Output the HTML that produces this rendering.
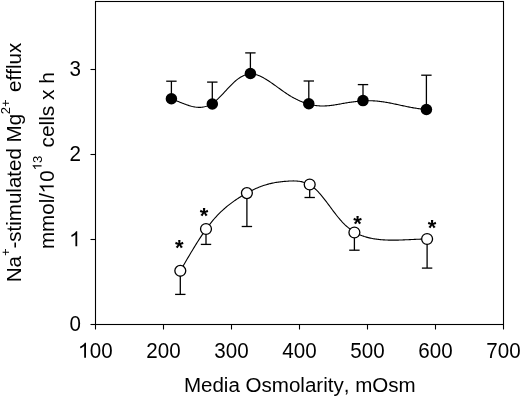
<!DOCTYPE html>
<html><head><meta charset="utf-8"><style>
html,body{margin:0;padding:0;background:#fff;overflow:hidden;}
svg{display:block;filter:grayscale(1);}
.t{font-family:"Liberation Sans",sans-serif;fill:#000;font-kerning:none;font-variant-ligatures:none;}
.a{font-family:"Liberation Sans",sans-serif;font-size:22px;font-weight:bold;fill:#000;}
</style></head><body>
<svg width="520" height="397" viewBox="0 0 520 397">
<rect x="95.5" y="1.5" width="408.0" height="323.0" fill="none" stroke="#000" stroke-width="1.1"/>
<line x1="90.5" y1="324.5" x2="95.5" y2="324.5" stroke="#000" stroke-width="1.1"/>
<g transform="translate(0,331.30) scale(1,1.07)"><text x="69.54" y="0.00" class="t" style="font-size:20.6px">0</text></g>
<line x1="90.5" y1="239.5" x2="95.5" y2="239.5" stroke="#000" stroke-width="1.1"/>
<g transform="translate(0,246.30) scale(1,1.07)"><path d="M0.285,0 L0.373,0 L0.373,0.688 L0.316,0.688 C0.29,0.63 0.2,0.555 0.09,0.51 L0.09,0.428 C0.17,0.458 0.24,0.5 0.285,0.54 Z" transform="translate(69.54,0.00) scale(20.600,-20.600)"/></g>
<line x1="90.5" y1="154.5" x2="95.5" y2="154.5" stroke="#000" stroke-width="1.1"/>
<g transform="translate(0,161.30) scale(1,1.07)"><text x="69.54" y="0.00" class="t" style="font-size:20.6px">2</text></g>
<line x1="90.5" y1="69.5" x2="95.5" y2="69.5" stroke="#000" stroke-width="1.1"/>
<g transform="translate(0,76.30) scale(1,1.07)"><text x="69.54" y="0.00" class="t" style="font-size:20.6px">3</text></g>
<line x1="95.5" y1="324.5" x2="95.5" y2="329.5" stroke="#000" stroke-width="1.1"/>
<g transform="translate(0,357.80) scale(1,1.07)"><path d="M0.285,0 L0.373,0 L0.373,0.688 L0.316,0.688 C0.29,0.63 0.2,0.555 0.09,0.51 L0.09,0.428 C0.17,0.458 0.24,0.5 0.285,0.54 Z" transform="translate(78.31,0.00) scale(20.600,-20.600)"/>
<text x="89.77" y="0.00" class="t" style="font-size:20.6px">00</text></g>
<line x1="163.5" y1="324.5" x2="163.5" y2="329.5" stroke="#000" stroke-width="1.1"/>
<g transform="translate(0,357.80) scale(1,1.07)"><text x="146.31" y="0.00" class="t" style="font-size:20.6px">200</text></g>
<line x1="231.5" y1="324.5" x2="231.5" y2="329.5" stroke="#000" stroke-width="1.1"/>
<g transform="translate(0,357.80) scale(1,1.07)"><text x="214.31" y="0.00" class="t" style="font-size:20.6px">300</text></g>
<line x1="299.5" y1="324.5" x2="299.5" y2="329.5" stroke="#000" stroke-width="1.1"/>
<g transform="translate(0,357.80) scale(1,1.07)"><text x="282.31" y="0.00" class="t" style="font-size:20.6px">400</text></g>
<line x1="367.5" y1="324.5" x2="367.5" y2="329.5" stroke="#000" stroke-width="1.1"/>
<g transform="translate(0,357.80) scale(1,1.07)"><text x="350.31" y="0.00" class="t" style="font-size:20.6px">500</text></g>
<line x1="435.5" y1="324.5" x2="435.5" y2="329.5" stroke="#000" stroke-width="1.1"/>
<g transform="translate(0,357.80) scale(1,1.07)"><text x="418.31" y="0.00" class="t" style="font-size:20.6px">600</text></g>
<line x1="503.5" y1="324.5" x2="503.5" y2="329.5" stroke="#000" stroke-width="1.1"/>
<g transform="translate(0,357.80) scale(1,1.07)"><text x="486.31" y="0.00" class="t" style="font-size:20.6px">700</text></g>
<path d="M171.4,98.72 L172.4,99.11 L173.4,99.50 L174.4,99.90 L175.4,100.31 L176.4,100.72 L177.4,101.14 L178.4,101.55 L179.4,101.97 L180.4,102.39 L181.4,102.80 L182.4,103.20 L183.4,103.60 L184.4,103.98 L185.4,104.36 L186.4,104.72 L187.4,105.06 L188.4,105.39 L189.4,105.70 L190.4,105.99 L191.4,106.26 L192.4,106.50 L193.4,106.71 L194.4,106.90 L195.4,107.06 L196.4,107.18 L197.4,107.28 L198.4,107.33 L199.4,107.35 L200.4,107.33 L201.4,107.27 L202.4,107.16 L203.4,107.01 L204.4,106.82 L205.4,106.57 L206.4,106.28 L207.4,105.93 L208.4,105.53 L209.4,105.08 L210.4,104.56 L211.4,103.99 L212.4,103.36 L213.4,102.66 L214.4,101.91 L215.4,101.10 L216.4,100.24 L217.4,99.34 L218.4,98.41 L219.4,97.43 L220.4,96.43 L221.4,95.41 L222.4,94.36 L223.4,93.29 L224.4,92.22 L225.4,91.14 L226.4,90.06 L227.4,88.98 L228.4,87.91 L229.4,86.85 L230.4,85.81 L231.4,84.79 L232.4,83.80 L233.4,82.83 L234.4,81.91 L235.4,81.02 L236.4,80.18 L237.4,79.39 L238.4,78.64 L239.4,77.95 L240.4,77.30 L241.4,76.70 L242.4,76.16 L243.4,75.68 L244.4,75.24 L245.4,74.87 L246.4,74.55 L247.4,74.30 L248.4,74.10 L249.4,73.97 L250.4,73.90 L251.4,73.90 L252.4,73.95 L253.4,74.07 L254.4,74.24 L255.4,74.47 L256.4,74.74 L257.4,75.06 L258.4,75.43 L259.4,75.84 L260.4,76.28 L261.4,76.76 L262.4,77.27 L263.4,77.80 L264.4,78.37 L265.4,78.95 L266.4,79.56 L267.4,80.18 L268.4,80.82 L269.4,81.48 L270.4,82.15 L271.4,82.84 L272.4,83.53 L273.4,84.23 L274.4,84.95 L275.4,85.66 L276.4,86.38 L277.4,87.11 L278.4,87.83 L279.4,88.56 L280.4,89.28 L281.4,90.00 L282.4,90.71 L283.4,91.41 L284.4,92.11 L285.4,92.80 L286.4,93.47 L287.4,94.13 L288.4,94.78 L289.4,95.41 L290.4,96.02 L291.4,96.62 L292.4,97.19 L293.4,97.75 L294.4,98.30 L295.4,98.82 L296.4,99.33 L297.4,99.81 L298.4,100.29 L299.4,100.74 L300.4,101.17 L301.4,101.59 L302.4,101.99 L303.4,102.37 L304.4,102.73 L305.4,103.07 L306.4,103.39 L307.4,103.70 L308.4,103.99 L309.4,104.25 L310.4,104.50 L311.4,104.73 L312.4,104.94 L313.4,105.13 L314.4,105.31 L315.4,105.46 L316.4,105.59 L317.4,105.70 L318.4,105.80 L319.4,105.87 L320.4,105.93 L321.4,105.96 L322.4,105.98 L323.4,105.97 L324.4,105.95 L325.4,105.91 L326.4,105.85 L327.4,105.78 L328.4,105.70 L329.4,105.60 L330.4,105.49 L331.4,105.36 L332.4,105.23 L333.4,105.09 L334.4,104.94 L335.4,104.79 L336.4,104.62 L337.4,104.46 L338.4,104.28 L339.4,104.11 L340.4,103.93 L341.4,103.76 L342.4,103.58 L343.4,103.40 L344.4,103.23 L345.4,103.06 L346.4,102.89 L347.4,102.72 L348.4,102.57 L349.4,102.41 L350.4,102.26 L351.4,102.12 L352.4,101.98 L353.4,101.85 L354.4,101.73 L355.4,101.61 L356.4,101.50 L357.4,101.39 L358.4,101.29 L359.4,101.20 L360.4,101.12 L361.4,101.05 L362.4,100.98 L363.4,100.92 L364.4,100.87 L365.4,100.83 L366.4,100.80 L367.4,100.78 L368.4,100.77 L369.4,100.77 L370.4,100.77 L371.4,100.79 L372.4,100.82 L373.4,100.86 L374.4,100.91 L375.4,100.97 L376.4,101.05 L377.4,101.13 L378.4,101.23 L379.4,101.34 L380.4,101.46 L381.4,101.58 L382.4,101.72 L383.4,101.87 L384.4,102.02 L385.4,102.18 L386.4,102.35 L387.4,102.53 L388.4,102.71 L389.4,102.90 L390.4,103.10 L391.4,103.30 L392.4,103.50 L393.4,103.71 L394.4,103.92 L395.4,104.13 L396.4,104.34 L397.4,104.56 L398.4,104.78 L399.4,105.00 L400.4,105.22 L401.4,105.43 L402.4,105.65 L403.4,105.87 L404.4,106.08 L405.4,106.29 L406.4,106.50 L407.4,106.71 L408.4,106.91 L409.4,107.10 L410.4,107.30 L411.4,107.48 L412.4,107.66 L413.4,107.84 L414.4,108.00 L415.4,108.16 L416.4,108.31 L417.4,108.46 L418.4,108.59 L419.4,108.71 L420.4,108.83 L421.4,108.93 L422.4,109.02 L423.4,109.10 L424.4,109.17 L425.4,109.22 L426.3,109.26" fill="none" stroke="#000" stroke-width="1.1"/>
<path d="M180.3,270.71 L181.3,269.02 L182.3,267.32 L183.3,265.62 L184.3,263.92 L185.3,262.22 L186.3,260.52 L187.3,258.82 L188.3,257.13 L189.3,255.44 L190.3,253.76 L191.3,252.09 L192.3,250.43 L193.3,248.78 L194.3,247.14 L195.3,245.51 L196.3,243.90 L197.3,242.30 L198.3,240.72 L199.3,239.16 L200.3,237.62 L201.3,236.09 L202.3,234.59 L203.3,233.12 L204.3,231.66 L205.3,230.24 L206.3,228.84 L207.3,227.47 L208.3,226.13 L209.3,224.81 L210.3,223.54 L211.3,222.29 L212.3,221.08 L213.3,219.89 L214.3,218.74 L215.3,217.62 L216.3,216.53 L217.3,215.46 L218.3,214.43 L219.3,213.41 L220.3,212.43 L221.3,211.47 L222.3,210.53 L223.3,209.62 L224.3,208.73 L225.3,207.87 L226.3,207.02 L227.3,206.19 L228.3,205.39 L229.3,204.60 L230.3,203.83 L231.3,203.07 L232.3,202.34 L233.3,201.62 L234.3,200.91 L235.3,200.22 L236.3,199.54 L237.3,198.87 L238.3,198.21 L239.3,197.57 L240.3,196.93 L241.3,196.31 L242.3,195.70 L243.3,195.09 L244.3,194.50 L245.3,193.92 L246.3,193.35 L247.3,192.79 L248.3,192.25 L249.3,191.72 L250.3,191.19 L251.3,190.68 L252.3,190.19 L253.3,189.70 L254.3,189.23 L255.3,188.77 L256.3,188.33 L257.3,187.90 L258.3,187.48 L259.3,187.08 L260.3,186.69 L261.3,186.31 L262.3,185.95 L263.3,185.60 L264.3,185.27 L265.3,184.96 L266.3,184.66 L267.3,184.37 L268.3,184.10 L269.3,183.84 L270.3,183.60 L271.3,183.37 L272.3,183.15 L273.3,182.95 L274.3,182.76 L275.3,182.58 L276.3,182.41 L277.3,182.25 L278.3,182.11 L279.3,181.97 L280.3,181.84 L281.3,181.72 L282.3,181.61 L283.3,181.51 L284.3,181.42 L285.3,181.33 L286.3,181.25 L287.3,181.18 L288.3,181.11 L289.3,181.05 L290.3,181.00 L291.3,180.96 L292.3,180.93 L293.3,180.92 L294.3,180.93 L295.3,180.96 L296.3,181.01 L297.3,181.08 L298.3,181.18 L299.3,181.31 L300.3,181.47 L301.3,181.66 L302.3,181.89 L303.3,182.16 L304.3,182.46 L305.3,182.80 L306.3,183.19 L307.3,183.63 L308.3,184.11 L309.3,184.64 L310.3,185.23 L311.3,185.86 L312.3,186.56 L313.3,187.31 L314.3,188.12 L315.3,189.00 L316.3,189.94 L317.3,190.93 L318.3,191.97 L319.3,193.06 L320.3,194.19 L321.3,195.36 L322.3,196.57 L323.3,197.81 L324.3,199.08 L325.3,200.37 L326.3,201.68 L327.3,203.01 L328.3,204.34 L329.3,205.69 L330.3,207.04 L331.3,208.39 L332.3,209.73 L333.3,211.07 L334.3,212.40 L335.3,213.70 L336.3,214.99 L337.3,216.26 L338.3,217.49 L339.3,218.70 L340.3,219.87 L341.3,220.99 L342.3,222.08 L343.3,223.12 L344.3,224.11 L345.3,225.07 L346.3,225.98 L347.3,226.85 L348.3,227.69 L349.3,228.48 L350.3,229.24 L351.3,229.96 L352.3,230.65 L353.3,231.30 L354.3,231.91 L355.3,232.50 L356.3,233.05 L357.3,233.58 L358.3,234.07 L359.3,234.54 L360.3,234.98 L361.3,235.39 L362.3,235.78 L363.3,236.14 L364.3,236.49 L365.3,236.80 L366.3,237.10 L367.3,237.38 L368.3,237.64 L369.3,237.88 L370.3,238.10 L371.3,238.31 L372.3,238.50 L373.3,238.67 L374.3,238.84 L375.3,238.99 L376.3,239.13 L377.3,239.26 L378.3,239.38 L379.3,239.49 L380.3,239.59 L381.3,239.69 L382.3,239.77 L383.3,239.84 L384.3,239.90 L385.3,239.96 L386.3,240.01 L387.3,240.05 L388.3,240.08 L389.3,240.11 L390.3,240.13 L391.3,240.14 L392.3,240.15 L393.3,240.15 L394.3,240.14 L395.3,240.13 L396.3,240.12 L397.3,240.10 L398.3,240.08 L399.3,240.05 L400.3,240.02 L401.3,239.99 L402.3,239.95 L403.3,239.91 L404.3,239.87 L405.3,239.82 L406.3,239.78 L407.3,239.73 L408.3,239.69 L409.3,239.64 L410.3,239.59 L411.3,239.54 L412.3,239.49 L413.3,239.44 L414.3,239.40 L415.3,239.35 L416.3,239.31 L417.3,239.26 L418.3,239.22 L419.3,239.18 L420.3,239.15 L421.3,239.12 L422.3,239.09 L423.3,239.06 L424.3,239.04 L425.3,239.02 L426.3,239.01 L427.1,239.00" fill="none" stroke="#000" stroke-width="1.1"/>
<line x1="171.4" y1="98.8" x2="171.4" y2="81.2" stroke="#000" stroke-width="1.3"/>
<line x1="166.20000000000002" y1="81.2" x2="176.6" y2="81.2" stroke="#000" stroke-width="1.3"/>
<line x1="212.3" y1="104.0" x2="212.3" y2="82.1" stroke="#000" stroke-width="1.3"/>
<line x1="207.10000000000002" y1="82.1" x2="217.5" y2="82.1" stroke="#000" stroke-width="1.3"/>
<line x1="250.4" y1="73.5" x2="250.4" y2="52.9" stroke="#000" stroke-width="1.3"/>
<line x1="245.20000000000002" y1="52.9" x2="255.6" y2="52.9" stroke="#000" stroke-width="1.3"/>
<line x1="308.8" y1="103.7" x2="308.8" y2="81.0" stroke="#000" stroke-width="1.3"/>
<line x1="303.6" y1="81.0" x2="314.0" y2="81.0" stroke="#000" stroke-width="1.3"/>
<line x1="363.0" y1="100.6" x2="363.0" y2="84.6" stroke="#000" stroke-width="1.3"/>
<line x1="357.8" y1="84.6" x2="368.2" y2="84.6" stroke="#000" stroke-width="1.3"/>
<line x1="426.4" y1="109.5" x2="426.4" y2="75.2" stroke="#000" stroke-width="1.3"/>
<line x1="421.2" y1="75.2" x2="431.59999999999997" y2="75.2" stroke="#000" stroke-width="1.3"/>
<line x1="180.3" y1="270.8" x2="180.3" y2="294.4" stroke="#000" stroke-width="1.3"/>
<line x1="175.10000000000002" y1="294.4" x2="185.5" y2="294.4" stroke="#000" stroke-width="1.3"/>
<line x1="206.0" y1="229.0" x2="206.0" y2="244.4" stroke="#000" stroke-width="1.3"/>
<line x1="200.8" y1="244.4" x2="211.2" y2="244.4" stroke="#000" stroke-width="1.3"/>
<line x1="246.9" y1="193.1" x2="246.9" y2="226.5" stroke="#000" stroke-width="1.3"/>
<line x1="241.70000000000002" y1="226.5" x2="252.1" y2="226.5" stroke="#000" stroke-width="1.3"/>
<line x1="309.7" y1="184.5" x2="309.7" y2="197.5" stroke="#000" stroke-width="1.3"/>
<line x1="304.5" y1="197.5" x2="314.9" y2="197.5" stroke="#000" stroke-width="1.3"/>
<line x1="354.4" y1="232.5" x2="354.4" y2="250.2" stroke="#000" stroke-width="1.3"/>
<line x1="349.2" y1="250.2" x2="359.59999999999997" y2="250.2" stroke="#000" stroke-width="1.3"/>
<line x1="427.1" y1="239.0" x2="427.1" y2="268.1" stroke="#000" stroke-width="1.3"/>
<line x1="421.90000000000003" y1="268.1" x2="432.3" y2="268.1" stroke="#000" stroke-width="1.3"/>
<circle cx="171.4" cy="98.8" r="5.75" fill="#000"/>
<circle cx="212.3" cy="104.0" r="5.75" fill="#000"/>
<circle cx="250.4" cy="73.5" r="5.75" fill="#000"/>
<circle cx="308.8" cy="103.7" r="5.75" fill="#000"/>
<circle cx="363.0" cy="100.6" r="5.75" fill="#000"/>
<circle cx="426.4" cy="109.5" r="5.75" fill="#000"/>
<circle cx="180.3" cy="270.8" r="5.45" fill="#fff" stroke="#000" stroke-width="1.3"/>
<circle cx="206.0" cy="229.0" r="5.45" fill="#fff" stroke="#000" stroke-width="1.3"/>
<circle cx="246.9" cy="193.1" r="5.45" fill="#fff" stroke="#000" stroke-width="1.3"/>
<circle cx="309.7" cy="184.5" r="5.45" fill="#fff" stroke="#000" stroke-width="1.3"/>
<circle cx="354.4" cy="232.5" r="5.45" fill="#fff" stroke="#000" stroke-width="1.3"/>
<circle cx="427.1" cy="239.0" r="5.45" fill="#fff" stroke="#000" stroke-width="1.3"/>
<text x="179.2" y="255" text-anchor="middle" class="a">*</text>
<text x="204.0" y="223" text-anchor="middle" class="a">*</text>
<text x="357.5" y="231" text-anchor="middle" class="a">*</text>
<text x="432.0" y="235" text-anchor="middle" class="a">*</text>
<text x="183.9" y="392.0" class="t" style="font-size:20.55px">Media Osmolarity, mOsm</text>
<g transform="translate(20.5,0) rotate(-90)"><text x="-282.30" y="0.00" class="t" style="font-size:20.55px">Na</text>
<text x="-256.03" y="-10.20" class="t" style="font-size:13.0px">+</text>
<text x="-248.60" y="0.00" class="t" style="font-size:20.55px">-stimulated&#160;Mg</text>
<text x="-114.30" y="-10.20" class="t" style="font-size:13.0px">2+</text>
<text x="-91.90" y="0.00" class="t" style="font-size:20.55px">efflux</text></g>
<g transform="translate(53.75,0) rotate(-90)"><text x="-249.00" y="0.00" class="t" style="font-size:20.55px">mmol/</text>
<path d="M0.285,0 L0.373,0 L0.373,0.688 L0.316,0.688 C0.29,0.63 0.2,0.555 0.09,0.51 L0.09,0.428 C0.17,0.458 0.24,0.5 0.285,0.54 Z" transform="translate(-193.06,0.00) scale(20.550,-20.550)"/>
<text x="-181.63" y="0.00" class="t" style="font-size:20.55px">0</text>
<path d="M0.285,0 L0.373,0 L0.373,0.688 L0.316,0.688 C0.29,0.63 0.2,0.555 0.09,0.51 L0.09,0.428 C0.17,0.458 0.24,0.5 0.285,0.54 Z" transform="translate(-170.20,-12.20) scale(13.000,-13.000)"/>
<text x="-162.97" y="-12.20" class="t" style="font-size:13.0px">3</text>
<text x="-147.50" y="0.00" class="t" style="font-size:20.85px">cells&#160;x&#160;h</text></g>
</svg>
</body></html>
